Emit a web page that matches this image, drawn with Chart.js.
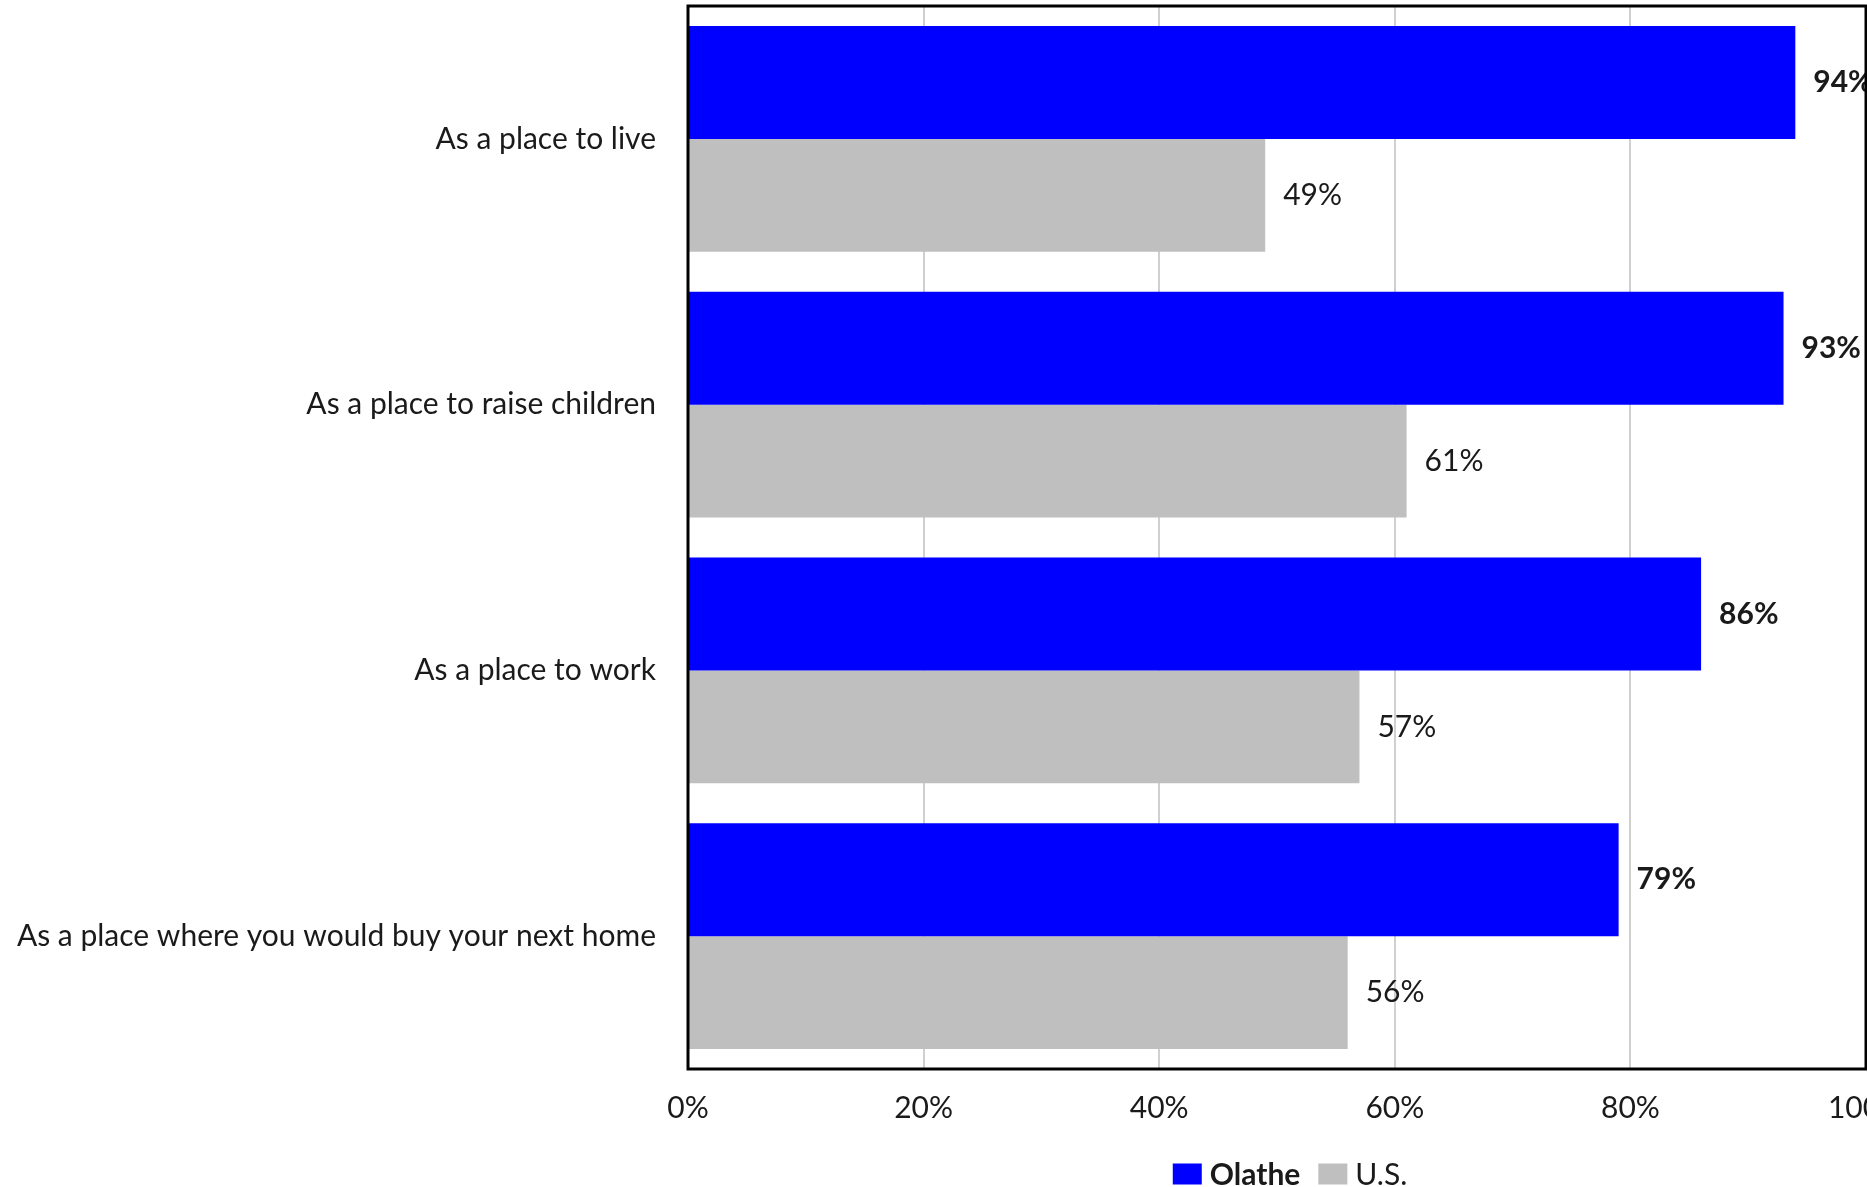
<!DOCTYPE html>
<html>
<head>
<meta charset="utf-8">
<script src="https://cdn.jsdelivr.net/npm/chart.js@4/dist/chart.umd.min.js"></script>
<style>
  html, body { margin: 0; padding: 0; background: #fff; overflow: hidden; }
  #wrap { width: 1926px; height: 1187px; position: relative; }
</style>
</head>
<body>
<div id="wrap"><canvas id="ratingChart"></canvas></div>
<script>
const categories = [
    'As a place to live',
    'As a place to raise children',
    'As a place to work',
    'As a place where you would buy your next home'
];
const olatheValues = [94, 93, 86, 79];
const usValues = [49, 61, 57, 56];
const seriesNames = ['Olathe', 'U.S.'];
const seriesColors = ['#0000ff', '#bfbfbf'];

const FONT = 'Lato';
const TEXT = '#1a1a1a';

// value labels at the end of each bar, Olathe bold
const valueLabels = {
    id: 'valueLabels',
    afterDatasetsDraw(chart) {
        const ctx = chart.ctx;
        chart.data.datasets.forEach((ds, i) => {
            chart.getDatasetMeta(i).data.forEach((bar, j) => {
                ctx.save();
                ctx.font = (i === 0 ? 'bold ' : '') + '30px ' + FONT;
                ctx.fillStyle = TEXT;
                ctx.textBaseline = 'middle';
                ctx.textAlign = 'left';
                ctx.fillText(ds.data[j] + '%', bar.x + 18, bar.y);
                ctx.restore();
            });
        });
    }
};

// box round the plot area
const frame = {
    id: 'frame',
    afterDraw(chart) {
        const a = chart.chartArea;
        const ctx = chart.ctx;
        ctx.save();
        ctx.strokeStyle = '#000';
        ctx.lineWidth = 3;
        ctx.strokeRect(a.left, a.top, a.right - a.left, a.bottom - a.top);
        ctx.restore();
    }
};

// legend under the axis: Olathe bold, U.S. normal
const bottomLegend = {
    id: 'bottomLegend',
    afterDraw(chart) {
        const a = chart.chartArea;
        const ctx = chart.ctx;
        const boxW = 29, boxH = 21, gap = 8, itemGap = 18;
        const fonts = ['bold 30px ' + FONT, '30px ' + FONT];
        ctx.save();
        const widths = seriesNames.map((n, i) => { ctx.font = fonts[i]; return ctx.measureText(n).width; });
        let total = 0;
        widths.forEach((w, i) => { total += boxW + gap + w + (i ? itemGap : 0); });
        let x = (a.left + a.right) / 2 + 13 - total / 2;
        const y = a.bottom + 105;
        seriesNames.forEach((n, i) => {
            ctx.fillStyle = seriesColors[i];
            ctx.fillRect(x, y - boxH / 2, boxW, boxH);
            x += boxW + gap;
            ctx.font = fonts[i];
            ctx.fillStyle = TEXT;
            ctx.textBaseline = 'middle';
            ctx.fillText(n, x, y + 1);
            x += widths[i] + itemGap;
        });
        ctx.restore();
    }
};

new Chart(document.getElementById('ratingChart'), {
    type: 'bar',
    data: {
        labels: categories,
        datasets: [{
            label: seriesNames[0],
            data: olatheValues,
            backgroundColor: seriesColors[0],
            borderWidth: 0
        }, {
            label: seriesNames[1],
            data: usValues,
            backgroundColor: seriesColors[1],
            borderWidth: 0
        }]
    },
    options: {
        indexAxis: 'y',
        responsive: true,
        maintainAspectRatio: false,
        animation: false,
        datasets: {
            bar: { categoryPercentage: 0.85, barPercentage: 1.0 }
        },
        layout: {
            padding: { top: 6, right: 60, bottom: 58, left: 0 }
        },
        scales: {
            x: {
                min: 0,
                max: 100,
                ticks: {
                    stepSize: 20,
                    padding: 21,
                    color: TEXT,
                    font: { family: FONT, size: 30 },
                    callback: v => v + '%'
                },
                grid: { color: '#d0d0d0', lineWidth: 2, drawTicks: false },
                border: { display: false },
                afterFit(scale) { scale.height = 60; }
            },
            y: {
                ticks: {
                    padding: 32,
                    color: TEXT,
                    font: { family: FONT, size: 30 }
                },
                grid: { display: false, drawTicks: false },
                border: { display: false },
                afterFit(scale) {
                    scale.width = 688;
                    scale.paddingTop = 0;
                    scale.paddingBottom = 0;
                }
            }
        },
        plugins: {
            legend: { display: false },
            tooltip: { enabled: false }
        }
    },
    plugins: [valueLabels, frame, bottomLegend]
});
</script>
</body>
</html>
